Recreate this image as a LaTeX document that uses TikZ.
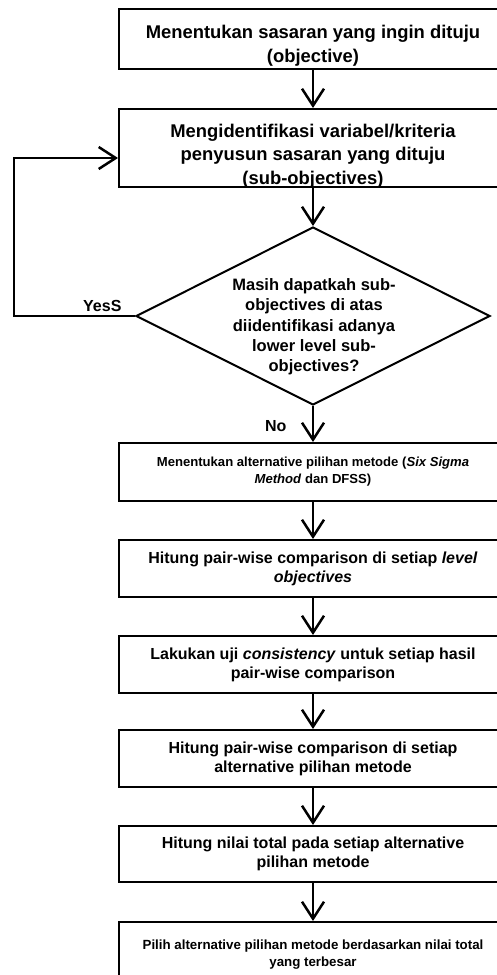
\documentclass[tikz,border=0pt]{standalone}
\usepackage{fontspec}
\setmainfont{Liberation Sans}
\usetikzlibrary{arrows.meta,shapes.geometric}

\tikzset{
  stepbox/.style={draw, line width=2pt, minimum width=388pt, inner sep=3pt, align=center, font=\bfseries\fontsize{16}{19}\selectfont},
  bigtext/.style={font=\bfseries\fontsize{18.4}{23.5}\selectfont},
  smalltext/.style={font=\bfseries\fontsize{13.1}{17}\selectfont},
  decision/.style={draw, shape=diamond, line width=2pt, minimum width=354pt, minimum height=178pt, inner sep=0pt},
  flowlabel/.style={font=\bfseries\fontsize{16}{19}\selectfont},
  flow/.style={line width=2.5pt, -{Straight Barb[length=17pt,width=22pt]}},
}

\begin{document}
\begin{tikzpicture}[x=1pt, y=-1pt]
\useasboundingbox (0,0) rectangle (497,975);
\clip (0,0) rectangle (497,975);
\node[stepbox, bigtext, text height=50pt, text depth=4pt] (obj) at (313,39) {Menentukan sasaran yang ingin dituju\\(objective)};
\node[stepbox, bigtext, text height=72pt, text depth=0pt] (sub) at (313,148) {Mengidentifikasi variabel/kriteria\\penyusun sasaran yang dituju\\(sub-objectives)};
\node[decision] (check) at (313,316) {};
\node[flowlabel, align=center, font=\bfseries\fontsize{16.5}{20.3}\selectfont] (checktext) at (314,327) {Masih dapatkah sub-\\objectives di atas\\diidentifikasi adanya\\lower level sub-\\objectives?};
\node[stepbox, smalltext, minimum height=58pt] (alt) at (313,472) {Menentukan alternative pilihan metode (\textit{Six Sigma}\\\textit{Method} dan DFSS)};
\node[stepbox, minimum height=57pt] (pair) at (313,568.5) {Hitung pair-wise comparison di setiap \textit{level}\\\textit{objectives}};
\node[stepbox, minimum height=57pt] (cons) at (313,664.5) {Lakukan uji \textit{consistency} untuk setiap hasil\\pair-wise comparison};
\node[stepbox, minimum height=57pt] (pairalt) at (313,758.5) {Hitung pair-wise comparison di setiap\\alternative pilihan metode};
\node[stepbox, minimum height=56pt] (total) at (313,854) {Hitung nilai total pada setiap alternative\\pilihan metode};
\node[stepbox, font=\bfseries\fontsize{13.3}{17}\selectfont, minimum height=66pt] (pick) at (313,955) {Pilih alternative pilihan metode berdasarkan nilai total\\yang terbesar};
\draw[flow] (obj) -- (sub);
\draw[flow] (sub) -- (check);
\draw[flow] (check.west) -- node[flowlabel, pos=0.27, above] (yes) {YesS} ++(-121,0) |- ([yshift=-10pt]sub.west);
\draw[flow] (check.south) -- node[flowlabel, pos=0.55, left=22pt] (no) {No} (alt.north);
\draw[flow] (alt) -- (pair);
\draw[flow] (pair) -- (cons);
\draw[flow] (cons) -- (pairalt);
\draw[flow] (pairalt) -- (total);
\draw[flow] (total) -- (pick);
\end{tikzpicture}
\end{document}
